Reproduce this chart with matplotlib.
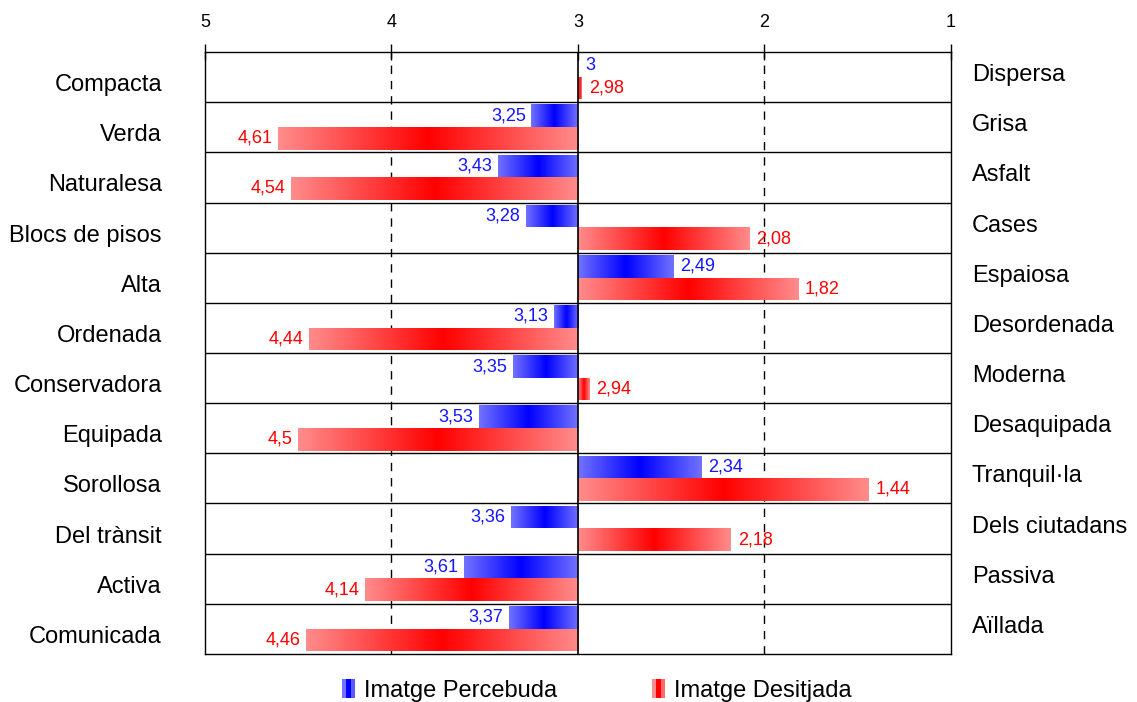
import matplotlib
matplotlib.use("Agg")
import matplotlib.pyplot as plt
import numpy as np
from matplotlib.colors import LinearSegmentedColormap
from matplotlib.legend_handler import HandlerBase
from matplotlib.patches import Rectangle

plt.rcParams['font.family'] = ['Liberation Sans', 'DejaVu Sans']

left_labels = ["Compacta", "Verda", "Naturalesa", "Blocs de pisos", "Alta", "Ordenada",
               "Conservadora", "Equipada", "Sorollosa", "Del trànsit", "Activa", "Comunicada"]
right_labels = ["Dispersa", "Grisa", "Asfalt", "Cases", "Espaiosa", "Desordenada",
                "Moderna", "Desaquipada", "Tranquil·la", "Dels ciutadans", "Passiva", "Aïllada"]
percebuda = [3, 3.25, 3.43, 3.28, 2.49, 3.13, 3.35, 3.53, 2.34, 3.36, 3.61, 3.37]
desitjada = [2.98, 4.61, 4.54, 2.08, 1.82, 4.44, 2.94, 4.5, 1.44, 2.18, 4.14, 4.46]
xticks = [5, 4, 3, 2, 1]

blue_light, blue_dark = "#7272ff", "#0000ff"
red_light, red_dark = "#ff8c8c", "#ff0000"
cmap_blue = LinearSegmentedColormap.from_list("b", [blue_light, blue_dark, blue_light])
cmap_red = LinearSegmentedColormap.from_list("r", [red_light, red_dark, red_light])
grad = np.linspace(0, 1, 256).reshape(1, -1)

fig = plt.figure(figsize=(11.37, 7.02), dpi=100)
ax = fig.add_axes([0.1803, 0.0684, 0.6561, 0.8575])

n = len(left_labels)
ax.set_xlim(5, 1)
ax.set_ylim(n, 0)

for x in [4, 2]:
    ax.axvline(x, color="black", lw=1, ls=(0, (6, 5)), zorder=0)
for i in range(1, n):
    ax.axhline(i, color="black", lw=1, zorder=3)
ax.axvline(3, color="black", lw=1.2, zorder=4)

h = 0.45
y = np.arange(n)


def gradient_bars(vals, yc, cmap):
    bars = ax.barh(yc, np.array(vals) - 3, left=3, height=h, color="none", zorder=1)
    for b in bars:
        x0, x1 = b.get_x(), b.get_x() + b.get_width()
        y0, y1 = b.get_y(), b.get_y() + b.get_height()
        if x0 == x1:
            continue
        im = ax.imshow(grad, cmap=cmap, aspect="auto", extent=[min(x0, x1), max(x0, x1), y1, y0],
                       interpolation="bilinear", zorder=1)
        im.set_clip_path(b)
    return bars


gradient_bars(percebuda, y + 0.045 + h / 2, cmap_blue)
gradient_bars(desitjada, y + 0.495 + h / 2, cmap_red)


def fmt(v):
    return f"{v:g}".replace(".", ",")


for vals, off, col in [(percebuda, 0.045 + h / 2, "#1515ff"), (desitjada, 0.495 + h / 2, "#ff0000")]:
    for i, v in enumerate(vals):
        if v > 3:
            ax.annotate(fmt(v), (v, i + off), xytext=(-4, 0), textcoords="offset points",
                        ha="right", va="center", fontsize=13, color=col, zorder=5)
        else:
            ax.annotate(fmt(v), (v, i + off), xytext=(5, 0), textcoords="offset points",
                        ha="left", va="center", fontsize=13, color=col, zorder=5)

for i in range(n):
    ax.annotate(left_labels[i], (0, i + 0.5 + 0.16), xycoords=("axes fraction", "data"),
                xytext=(-31, 0), textcoords="offset points", ha="right", va="center", fontsize=17)
    ax.annotate(right_labels[i], (1, i + 0.5 - 0.04), xycoords=("axes fraction", "data"),
                xytext=(15, 0), textcoords="offset points", ha="left", va="center", fontsize=17)

ax.xaxis.tick_top()
ax.set_xticks(xticks)
ax.set_xticklabels([str(t) for t in xticks])
ax.tick_params(axis="x", direction="inout", length=12, width=1, pad=9, labelsize=13)
ax.set_yticks([])
for s in ax.spines.values():
    s.set_color("black")
    s.set_linewidth(1)


class StripeHandler(HandlerBase):
    def __init__(self, colors):
        super().__init__()
        self.colors = colors

    def create_artists(self, legend, orig_handle, xdescent, ydescent, width, height, fontsize, trans):
        k = len(self.colors)
        w = width / k
        return [Rectangle((-xdescent + j * w, -ydescent - 1), w, height + 2, facecolor=c,
                          edgecolor="none", transform=trans) for j, c in enumerate(self.colors)]


hb = Rectangle((0, 0), 1, 1)
hr = Rectangle((0, 0), 1, 1)
fig.legend([hb, hr], ["Imatge Percebuda", "Imatge Desitjada"],
           handler_map={hb: StripeHandler([blue_light, blue_dark, "#5a5aff"]),
                        hr: StripeHandler([red_light, red_dark, "#ff6a6a"])},
           loc="lower center", bbox_to_anchor=(0.525, -0.03), ncol=2, frameon=False,
           fontsize=17, handlelength=0.55, handletextpad=0.4, columnspacing=4.0)

fig.savefig("out.png", dpi=100)
